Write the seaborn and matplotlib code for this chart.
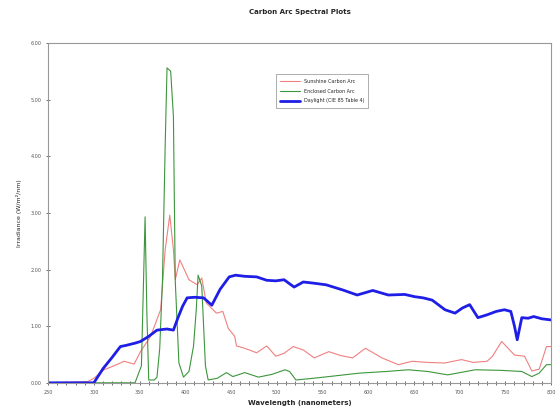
import numpy as np
import pandas as pd
import matplotlib
matplotlib.use("Agg")
import matplotlib.pyplot as plt
import seaborn as sns
from matplotlib.ticker import MultipleLocator

# Dati
sun_wl = [250, 293, 300, 311, 322, 333, 344, 351, 362, 373, 378, 383, 387, 389, 394, 404, 413, 418,
          423, 434, 441, 447, 454, 456, 463, 470, 478, 489, 499, 508, 518, 529, 541, 557, 570, 583,
          597, 615, 633, 648, 665, 684, 702, 715, 730, 736, 746, 760, 771, 779, 787, 795, 800]
sun_val = [0, 0.02, 0.08, 0.23, 0.30, 0.38, 0.33, 0.55, 0.82, 1.29, 2.35, 2.96, 2.35, 1.82, 2.17,
           1.82, 1.73, 1.85, 1.41, 1.23, 1.26, 0.96, 0.82, 0.65, 0.62, 0.58, 0.53, 0.65, 0.47, 0.52,
           0.64, 0.58, 0.44, 0.55, 0.48, 0.44, 0.61, 0.44, 0.32, 0.38, 0.36, 0.35, 0.41, 0.36, 0.38,
           0.47, 0.73, 0.49, 0.47, 0.21, 0.24, 0.64, 0.64]

enc_wl = [250, 345, 352, 354, 356, 358, 360, 366, 369, 372, 375, 378, 380, 384, 387, 389, 393, 398,
          404, 409, 412, 414, 418, 422, 425, 435, 445, 452, 465, 480, 495, 509, 514, 521, 540, 557,
          590, 620, 644, 665, 687, 717, 745, 768, 779, 787, 795, 800]
enc_val = [0, 0, 0.3, 1.6, 2.93, 1.2, 0.05, 0.05, 0.1, 0.6, 1.8, 4.2, 5.56, 5.5, 4.7, 1.8, 0.35, 0.1,
           0.2, 0.65, 1.3, 1.90, 1.71, 0.3, 0.05, 0.08, 0.18, 0.11, 0.18, 0.1, 0.15, 0.23, 0.2, 0.05,
           0.08, 0.11, 0.17, 0.2, 0.23, 0.2, 0.14, 0.23, 0.22, 0.2, 0.11, 0.17, 0.32, 0.32]

day_wl = [250, 300, 310, 320, 329, 335, 345, 351, 360, 369, 380, 387, 392, 397, 402, 410, 420, 429,
          438, 448, 455, 465, 478, 489, 499, 508, 519, 529, 540, 554, 572, 588, 605, 622, 640, 651,
          660, 670, 684, 695, 703, 711, 720, 730, 740, 749, 756, 760, 763, 768, 775, 781, 790, 800]
day_val = [0, 0, 0.25, 0.45, 0.64, 0.66, 0.70, 0.73, 0.82, 0.93, 0.95, 0.93, 1.15, 1.35, 1.50, 1.51,
           1.50, 1.37, 1.65, 1.87, 1.90, 1.88, 1.87, 1.81, 1.80, 1.82, 1.69, 1.78, 1.76, 1.73, 1.64,
           1.55, 1.63, 1.55, 1.56, 1.52, 1.50, 1.46, 1.29, 1.23, 1.32, 1.38, 1.15, 1.20, 1.26, 1.29,
           1.26, 1.0, 0.76, 1.15, 1.14, 1.17, 1.13, 1.11]

labels = ['Sunshine Carbon Arc', 'Enclosed Carbon Arc', 'Daylight (CIE 85 Table 4)']

sns.set_style("white")
plt.rcParams['font.family'] = ['DejaVu Sans']

fig = plt.figure(figsize=(5.6, 4.17), dpi=100)
ax = fig.add_axes([0.086, 0.082, 0.898, 0.815])

sns.lineplot(x=sun_wl, y=sun_val, ax=ax, color='#f08080', linewidth=0.8, label=labels[0])
sns.lineplot(x=enc_wl, y=enc_val, ax=ax, color='#3c963c', linewidth=0.8, label=labels[1])
sns.lineplot(x=day_wl, y=day_val, ax=ax, color='#1e1ee6', linewidth=2.0, label=labels[2])

ax.set_xlim(250, 800)
ax.set_ylim(0, 6)
ax.xaxis.set_major_locator(MultipleLocator(50))
ax.xaxis.set_minor_locator(MultipleLocator(10))
ax.yaxis.set_major_locator(MultipleLocator(1))
ax.yaxis.set_major_formatter(matplotlib.ticker.FormatStrFormatter('%.2f'))
ax.tick_params(axis='both', which='both', direction='inout', labelsize=3.5, colors='#555555',
               length=3, width=0.6)
ax.tick_params(axis='both', which='major', bottom=True, left=True)
ax.tick_params(axis='x', which='minor', bottom=True)
for s in ax.spines.values():
    s.set_color('#999999')
    s.set_linewidth(0.8)

ax.set_title('Carbon Arc Spectral Plots', fontsize=5, fontweight='bold', pad=21)
ax.set_xlabel('Wavelength (nanometers)', fontsize=5, fontweight='bold', labelpad=4)
ax.set_ylabel('Irradiance (W/m\u00b2/nm)', fontsize=4.5, labelpad=6)

leg = ax.legend(loc='upper left', bbox_to_anchor=(0.448, 0.915), fontsize=3.5, frameon=True,
                fancybox=False, edgecolor='#888888', handlelength=4, borderpad=0.9, labelspacing=1.0)
leg.get_frame().set_linewidth(0.6)

fig.savefig('out.png', dpi=100)
